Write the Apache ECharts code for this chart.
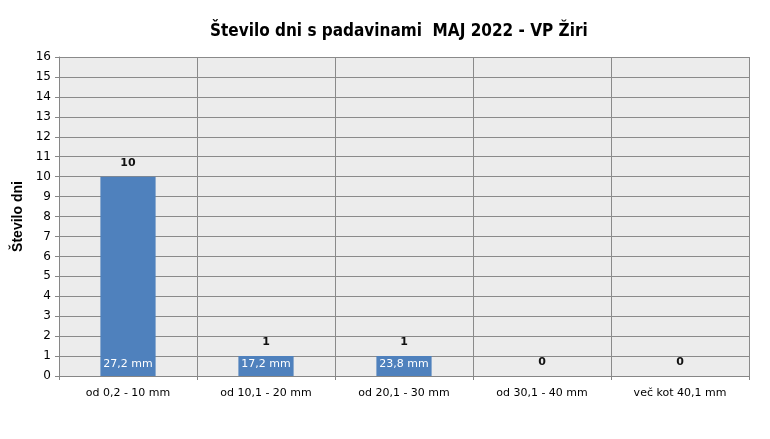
<!DOCTYPE html>
<html><head><meta charset="utf-8">
<script src="https://cdn.jsdelivr.net/npm/echarts@6/dist/echarts.min.js"></script>
<style>html,body{margin:0;padding:0;background:#fff}#c{width:770px;height:439px}</style>
</head><body><div id="c"></div>
<script>
const categories = ['od 0,2 - 10 mm', 'od 10,1 - 20 mm', 'od 20,1 - 30 mm', 'od 30,1 - 40 mm', 'več kot 40,1 mm'];
const days = [10, 1, 1, 0, 0];
const amounts = ['27,2 mm', '17,2 mm', '23,8 mm', '', ''];
const yTicks = [0, 16, 1];

const chart = echarts.init(document.getElementById('c'));
chart.setOption({
  animation: false,
  title: {
    text: 'Število dni s padavinami  MAJ 2022 - VP Žiri',
    left: 205, top: 18,
    textStyle: {fontFamily: '"Liberation Sans Narrow","DejaVu Sans Condensed",sans-serif', fontSize: 17, fontWeight: 'bold', color: '#000'}
  },
  grid: {left: 59, right: 21, top: 57, bottom: 63, show: true, backgroundColor: '#ececec', borderWidth: 0},
  xAxis: {
    type: 'category', data: categories,
    axisLine: {lineStyle: {color: '#868686'}},
    axisTick: {show: true, length: 4, lineStyle: {color: '#868686'}},
    splitLine: {show: true, lineStyle: {color: '#8a8a8a', width: 1}},
    axisLabel: {color: '#000', fontSize: 11, fontFamily: '"DejaVu Sans","Noto Sans",sans-serif', margin: 12}
  },
  yAxis: {
    type: 'value', min: yTicks[0], max: yTicks[1], interval: yTicks[2],
    name: 'Število dni', nameLocation: 'middle', nameGap: 34,
    nameTextStyle: {fontWeight: 'bold', fontSize: 14, color: '#000', fontFamily: '"Liberation Sans","DejaVu Sans",sans-serif'},
    axisLine: {show: true, lineStyle: {color: '#868686'}},
    axisTick: {show: true, length: 4, lineStyle: {color: '#868686'}},
    splitLine: {show: true, lineStyle: {color: '#8a8a8a', width: 1}},
    axisLabel: {color: '#000', fontSize: 12, fontFamily: '"DejaVu Sans","Noto Sans",sans-serif', margin: 8}
  },
  series: [
    {
      type: 'bar', data: days, barWidth: '40%',
      itemStyle: {color: '#4f81bd'},
      label: {show: true, position: 'top', distance: 8, fontWeight: 'bold', fontSize: 11, color: '#111', fontFamily: '"DejaVu Sans",sans-serif'}
    },
    {
      type: 'bar', data: days, barWidth: '40%', barGap: '-100%',
      itemStyle: {color: 'rgba(0,0,0,0)'},
      label: {show: true, position: 'insideBottom', distance: 6, fontSize: 11, color: '#fff', fontFamily: '"DejaVu Sans",sans-serif',
        formatter: p => amounts[p.dataIndex]}
    }
  ]
});
</script></body></html>
